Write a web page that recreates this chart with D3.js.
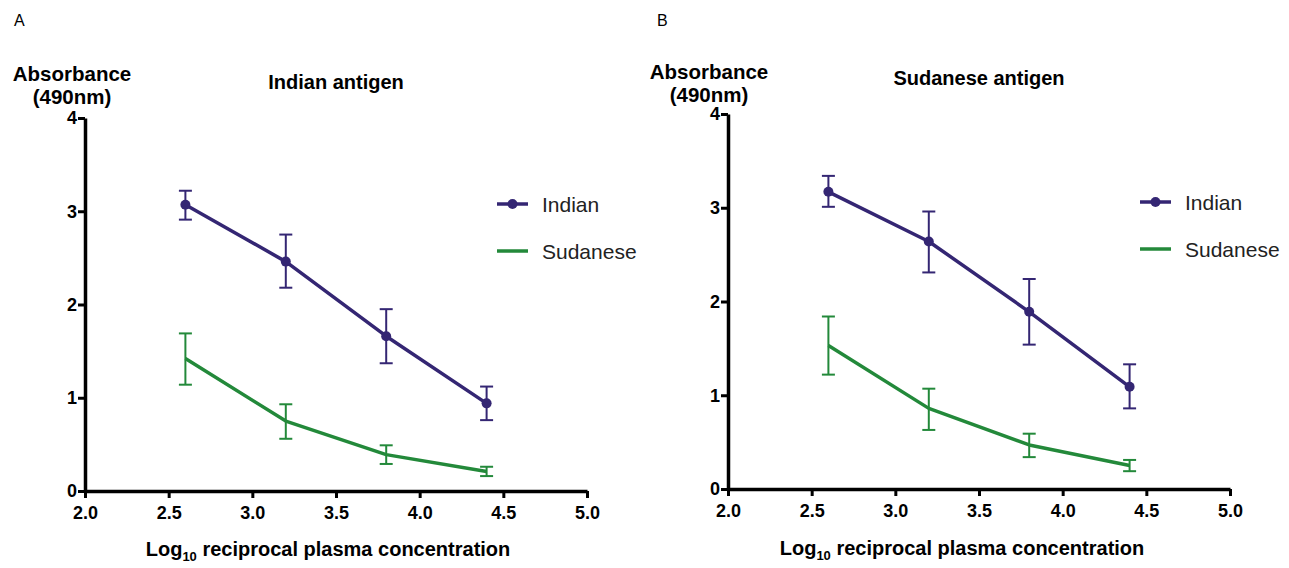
<!DOCTYPE html>
<html>
<head>
	<meta charset="utf-8">
	<title>Absorbance vs log10 reciprocal plasma concentration</title>
	<script src="https://cdn.jsdelivr.net/npm/d3@7"></script>
	<style>
		body {
			margin: 0;
			background: #fff;
			font-family: "Liberation Sans", Arial, Helvetica, sans-serif;
		}
	</style>
</head>
<body>
	<div id="chart"></div>

	<script>

		// data

		const concentrations = [2.6, 3.2, 3.8, 4.4];
		const xTicks = [2.0, 2.5, 3.0, 3.5, 4.0, 4.5, 5.0];
		const yTicks = [0, 1, 2, 3, 4];
		const seriesNames = ["Indian", "Sudanese"];

		// panel A: Indian antigen
		const indianAgIndian      = [3.07, 2.46, 1.66, 0.94];
		const indianAgIndianLow   = [2.91, 2.18, 1.37, 0.76];
		const indianAgIndianHigh  = [3.22, 2.75, 1.95, 1.12];
		const indianAgSudanese     = [1.42, 0.75, 0.39, 0.21];
		const indianAgSudaneseLow  = [1.14, 0.56, 0.29, 0.16];
		const indianAgSudaneseHigh = [1.69, 0.93, 0.49, 0.26];

		// panel B: Sudanese antigen
		const sudaneseAgIndian      = [3.17, 2.64, 1.89, 1.09];
		const sudaneseAgIndianLow   = [3.01, 2.31, 1.54, 0.86];
		const sudaneseAgIndianHigh  = [3.34, 2.96, 2.24, 1.33];
		const sudaneseAgSudanese     = [1.53, 0.86, 0.47, 0.25];
		const sudaneseAgSudaneseLow  = [1.22, 0.63, 0.34, 0.19];
		const sudaneseAgSudaneseHigh = [1.84, 1.07, 0.59, 0.31];

		// styling

		const width  = 1289;
		const height = 568;
		const font   = "'Liberation Sans', Arial, Helvetica, sans-serif";
		const colors = { Indian: "#342673", Sudanese: "#23893a" };

		const panels = [
			{
				letter: "A", letterX: 14,
				title: "Indian antigen", titleX: 336, titleY: 89,
				yLabelX: 72, yLabelY: 81,
				xAxisTitleX: 328, xAxisTitleY: 556,
				xRange: [85, 587], yRange: [491, 118],
				legendX: 497, legendY: 204,
				series: [
					{ name: "Indian",   y: indianAgIndian,   lo: indianAgIndianLow,   hi: indianAgIndianHigh },
					{ name: "Sudanese", y: indianAgSudanese, lo: indianAgSudaneseLow, hi: indianAgSudaneseHigh },
				],
			},
			{
				letter: "B", letterX: 657,
				title: "Sudanese antigen", titleX: 979, titleY: 85,
				yLabelX: 709, yLabelY: 79,
				xAxisTitleX: 962, xAxisTitleY: 555,
				xRange: [728, 1230], yRange: [489, 114],
				legendX: 1140, legendY: 202,
				series: [
					{ name: "Indian",   y: sudaneseAgIndian,   lo: sudaneseAgIndianLow,   hi: sudaneseAgIndianHigh },
					{ name: "Sudanese", y: sudaneseAgSudanese, lo: sudaneseAgSudaneseLow, hi: sudaneseAgSudaneseHigh },
				],
			},
		];

		const svg = d3.select("#chart")
			.append("svg")
			.attr("width", width)
			.attr("height", height)
			.attr("viewBox", [0, 0, width, height])
			.style("font-family", font);

		function drawPanel(p) {
			const g = svg.append("g");

			const x = d3.scaleLinear([2, 5], p.xRange);
			const y = d3.scaleLinear([0, 4], p.yRange);

			// panel letter
			g.append("text")
				.attr("x", p.letterX)
				.attr("y", 26)
				.attr("font-size", 16)
				.text(p.letter);

			// title
			g.append("text")
				.attr("x", p.titleX)
				.attr("y", p.titleY)
				.attr("text-anchor", "middle")
				.attr("font-size", 20)
				.attr("font-weight", "bold")
				.text(p.title);

			// y label (two lines)
			g.append("text")
				.attr("text-anchor", "middle")
				.attr("font-size", 20.5)
				.attr("font-weight", "bold")
				.selectAll("tspan")
				.data(["Absorbance", "(490nm)"])
				.join("tspan")
				.attr("x", p.yLabelX)
				.attr("y", (d, i) => p.yLabelY + i * 23)
				.text(d => d);

			// x axis title with subscript
			const xt = g.append("text")
				.attr("x", p.xAxisTitleX)
				.attr("y", p.xAxisTitleY)
				.attr("text-anchor", "middle")
				.attr("font-size", 20)
				.attr("font-weight", "bold");
			xt.append("tspan").text("Log");
			xt.append("tspan").attr("font-size", 13).attr("dy", 5).text("10");
			xt.append("tspan").attr("dy", -5).text(" reciprocal plasma concentration");

			// axes
			const yAxis = d3.axisLeft(y)
				.tickValues(yTicks)
				.tickFormat(d3.format("d"))
				.tickSize(7)
				.tickSizeOuter(0)
				.tickPadding(1);

			const xAxis = d3.axisBottom(x)
				.tickValues(xTicks)
				.tickFormat(d3.format(".1f"))
				.tickSize(7)
				.tickSizeOuter(0)
				.tickPadding(8);

			g.append("g")
				.attr("transform", `translate(0,${p.yRange[0]})`)
				.call(xAxis)
				.call(a => a.select(".domain").attr("stroke-width", 3.5))
				.call(a => a.selectAll(".tick line").attr("stroke-width", 3))
				.call(a => a.selectAll("text")
					.attr("font-family", font)
					.attr("font-size", 18)
					.attr("font-weight", "bold")
					.attr("fill", "#000"));

			g.append("g")
				.attr("transform", `translate(${p.xRange[0]},0)`)
				.call(yAxis)
				.call(a => a.select(".domain").attr("stroke-width", 3.5))
				.call(a => a.selectAll(".tick line").attr("stroke-width", 3))
				.call(a => a.selectAll("text")
					.attr("font-family", font)
					.attr("font-size", 18)
					.attr("font-weight", "bold")
					.attr("fill", "#000"));

			const line = d3.line()
				.x((d, i) => x(concentrations[i]))
				.y(d => y(d));

			// series: error bars, lines, markers
			p.series.forEach(s => {
				const c = colors[s.name];
				const eb = g.append("g")
					.attr("stroke", c)
					.attr("stroke-width", 2)
					.selectAll("g")
					.data(concentrations)
					.join("g");

				eb.append("line")
					.attr("x1", d => x(d)).attr("x2", d => x(d))
					.attr("y1", (d, i) => y(s.lo[i]))
					.attr("y2", (d, i) => y(s.hi[i]));
				eb.append("line")
					.attr("x1", d => x(d) - 6.5).attr("x2", d => x(d) + 6.5)
					.attr("y1", (d, i) => y(s.hi[i]))
					.attr("y2", (d, i) => y(s.hi[i]));
				eb.append("line")
					.attr("x1", d => x(d) - 6.5).attr("x2", d => x(d) + 6.5)
					.attr("y1", (d, i) => y(s.lo[i]))
					.attr("y2", (d, i) => y(s.lo[i]));

				g.append("path")
					.datum(s.y)
					.attr("fill", "none")
					.attr("stroke", c)
					.attr("stroke-width", 3.5)
					.attr("stroke-linejoin", "round")
					.attr("d", line);

				if (s.name === "Indian") {
					g.append("g")
						.attr("fill", c)
						.selectAll("circle")
						.data(s.y)
						.join("circle")
						.attr("cx", (d, i) => x(concentrations[i]))
						.attr("cy", d => y(d))
						.attr("r", 5);
				}
			});

			// legend
			const lg = g.append("g")
				.selectAll("g")
				.data(seriesNames)
				.join("g")
				.attr("transform", (d, i) => `translate(${p.legendX},${p.legendY + i * 47})`);

			lg.append("line")
				.attr("x1", 0).attr("x2", 31)
				.attr("stroke", d => colors[d])
				.attr("stroke-width", 3.5);
			lg.filter(d => d === "Indian")
				.append("circle")
				.attr("cx", 15.5)
				.attr("r", 5)
				.attr("fill", d => colors[d]);
			lg.append("text")
				.attr("x", 45)
				.attr("y", 7.5)
				.attr("font-size", 21)
				.attr("fill", "#222")
				.text(d => d);
		}

		panels.forEach(drawPanel);

	</script>
</body>
</html>
